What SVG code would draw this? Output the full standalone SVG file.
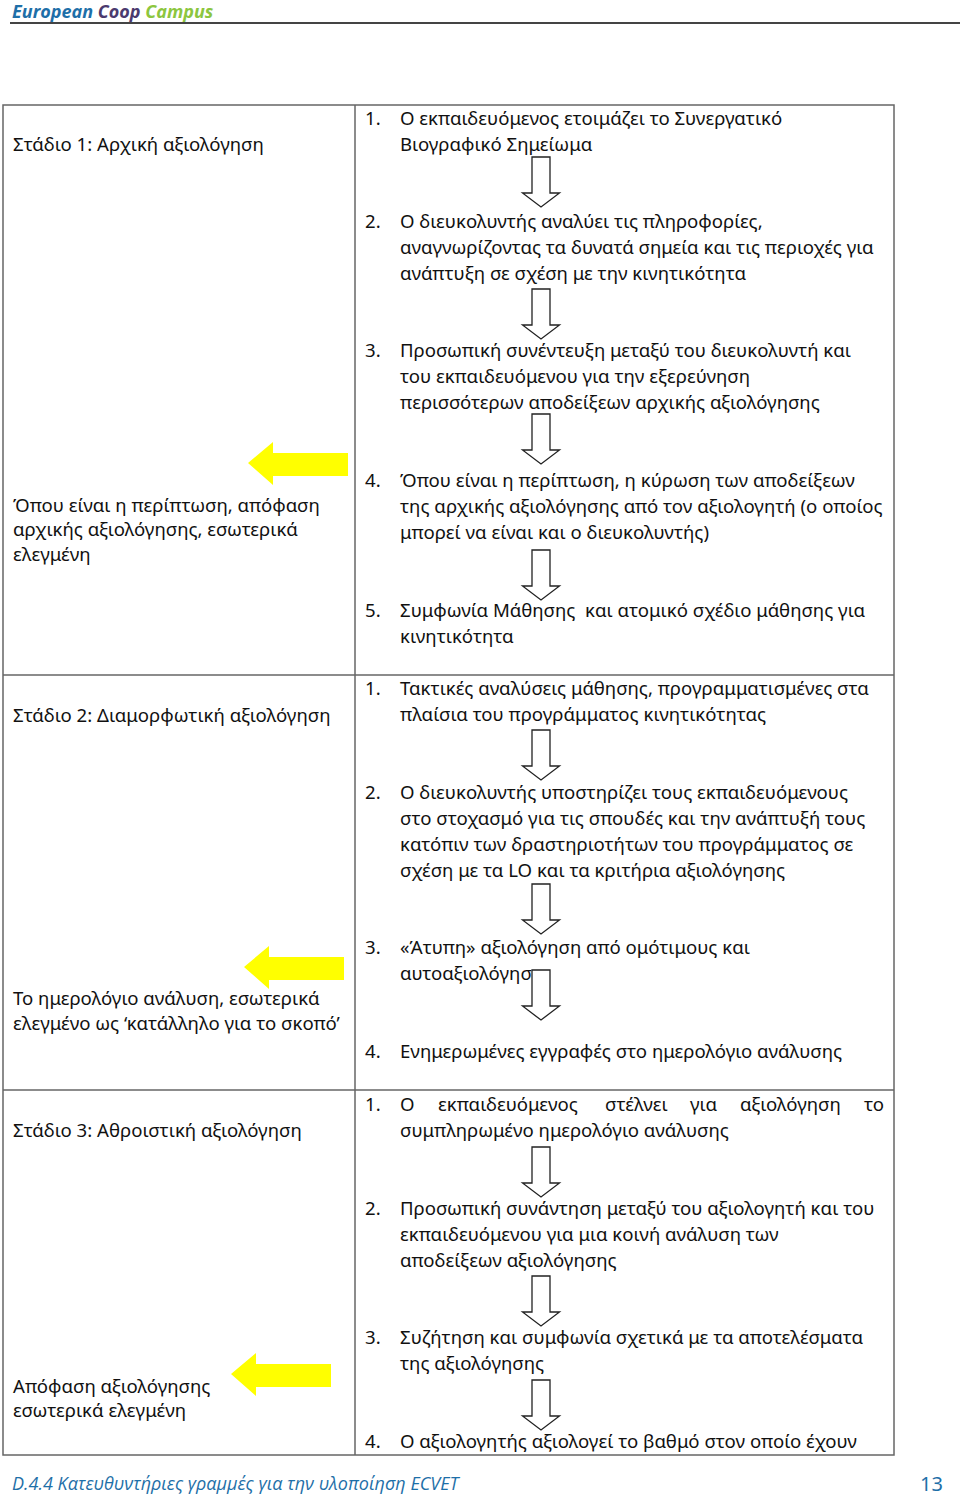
<svg xmlns="http://www.w3.org/2000/svg" width="960" height="1498" viewBox="0 0 960 1498">
<style>
.t{font-family:"Noto Sans","DejaVu Sans",sans-serif;font-size:18.6px;fill:#111}
.b{fill:none;stroke:#666;stroke-width:1.5}
.da{fill:#fff;stroke:#222;stroke-width:1.3}
.ya{fill:#ffff00;stroke:none}
</style>
<defs>
<path id="down" d="M-9,0 H9 V36 H18.5 L0,50 L-18.5,36 H-9 Z"/>
<path id="left" d="M0,0 L25,-21 V-10 H100 V13 H25 V22 Z"/>
</defs>
<rect width="960" height="1498" fill="#fff"/>
<g id="header">
<text x="12" y="18" font-family="'Open Sans','Noto Sans',sans-serif" font-size="18" font-weight="bold" font-style="italic"><tspan fill="#1e6fa8">European</tspan><tspan fill="#4b3a6e"> Coop</tspan><tspan fill="#8cc63f"> Campus</tspan></text>
<line x1="10" y1="23" x2="960" y2="23" stroke="#444" stroke-width="2"/>
</g>
<g id="table">
<rect class="b" x="3" y="105" width="891" height="1350"/>
<line class="b" x1="355" y1="105" x2="355" y2="1455"/>
<line class="b" x1="3" y1="675" x2="894" y2="675"/>
<line class="b" x1="3" y1="1090" x2="894" y2="1090"/>
</g>
<g id="stage1-left" class="t">
<text x="13" y="151">Στάδιο 1: Αρχική αξιολόγηση</text>
<text x="13" y="512">Όπου είναι η περίπτωση, απόφαση</text>
<text x="13" y="536">αρχικής αξιολόγησης, εσωτερικά</text>
<text x="13" y="561">ελεγμένη</text>
</g>
<g id="stage2-left" class="t">
<text x="13" y="722">Στάδιο 2: Διαμορφωτική αξιολόγηση</text>
<text x="13" y="1005">Το ημερολόγιο ανάλυση, εσωτερικά</text>
<text x="13" y="1030">ελεγμένο ως ‘κατάλληλο για το σκοπό’</text>
</g>
<g id="stage3-left" class="t">
<text x="13" y="1137">Στάδιο 3: Αθροιστική αξιολόγηση</text>
<text x="13" y="1393">Απόφαση αξιολόγησης</text>
<text x="13" y="1417">εσωτερικά ελεγμένη</text>
</g>
<g id="stage1-steps" class="t">
<text x="365" y="125">1.</text><text x="400" y="125">Ο εκπαιδευόμενος ετοιμάζει το Συνεργατικό</text>
<text x="400" y="151">Βιογραφικό Σημείωμα</text>
<text x="365" y="228">2.</text><text x="400" y="228">Ο διευκολυντής αναλύει τις πληροφορίες,</text>
<text x="400" y="254">αναγνωρίζοντας τα δυνατά σημεία και τις περιοχές για</text>
<text x="400" y="280">ανάπτυξη σε σχέση με την κινητικότητα</text>
<text x="365" y="357">3.</text><text x="400" y="357">Προσωπική συνέντευξη μεταξύ του διευκολυντή και</text>
<text x="400" y="383">του εκπαιδευόμενου για την εξερεύνηση</text>
<text x="400" y="409">περισσότερων αποδείξεων αρχικής αξιολόγησης</text>
<text x="365" y="487">4.</text><text x="400" y="487">Όπου είναι η περίπτωση, η κύρωση των αποδείξεων</text>
<text x="400" y="513">της αρχικής αξιολόγησης από τον αξιολογητή (ο οποίος</text>
<text x="400" y="539">μπορεί να είναι και ο διευκολυντής)</text>
<text x="365" y="617">5.</text><text x="400" y="617" xml:space="preserve">Συμφωνία Μάθησης  και ατομικό σχέδιο μάθησης για</text>
<text x="400" y="643">κινητικότητα</text>
</g>
<g id="stage2-steps" class="t">
<text x="365" y="695">1.</text><text x="400" y="695">Τακτικές αναλύσεις μάθησης, προγραμματισμένες στα</text>
<text x="400" y="721">πλαίσια του προγράμματος κινητικότητας</text>
<text x="365" y="799">2.</text><text x="400" y="799">Ο διευκολυντής υποστηρίζει τους εκπαιδευόμενους</text>
<text x="400" y="825">στο στοχασμό για τις σπουδές και την ανάπτυξή τους</text>
<text x="400" y="851">κατόπιν των δραστηριοτήτων του προγράμματος σε</text>
<text x="400" y="877">σχέση με τα LO και τα κριτήρια αξιολόγησης</text>
<text x="365" y="954">3.</text><text x="400" y="954">«Άτυπη» αξιολόγηση από ομότιμους και</text>
<text x="400" y="980">αυτοαξιολόγηση</text>
<text x="365" y="1058">4.</text><text x="400" y="1058">Ενημερωμένες εγγραφές στο ημερολόγιο ανάλυσης</text>
</g>
<g id="stage3-steps" class="t">
<text x="365" y="1111">1.</text>
<text x="400" y="1111">Ο</text><text x="438" y="1111">εκπαιδευόμενος</text><text x="605" y="1111">στέλνει</text><text x="690" y="1111">για</text><text x="740" y="1111">αξιολόγηση</text><text x="864" y="1111">το</text>
<text x="400" y="1137">συμπληρωμένο ημερολόγιο ανάλυσης</text>
<text x="365" y="1215">2.</text><text x="400" y="1215">Προσωπική συνάντηση μεταξύ του αξιολογητή και του</text>
<text x="400" y="1241">εκπαιδευόμενου για μια κοινή ανάλυση των</text>
<text x="400" y="1267">αποδείξεων αξιολόγησης</text>
<text x="365" y="1344">3.</text><text x="400" y="1344">Συζήτηση και συμφωνία σχετικά με τα αποτελέσματα</text>
<text x="400" y="1370">της αξιολόγησης</text>
<text x="365" y="1448">4.</text><text x="400" y="1448">Ο αξιολογητής αξιολογεί το βαθμό στον οποίο έχουν</text>
</g>
<g id="connectors">
<use href="#down" class="da" x="541" y="157"/>
<use href="#down" class="da" x="541" y="289"/>
<use href="#down" class="da" x="541" y="414"/>
<use href="#down" class="da" x="541" y="550"/>
<use href="#down" class="da" x="541" y="730"/>
<use href="#down" class="da" x="541" y="884"/>
<use href="#down" class="da" x="541" y="970"/>
<use href="#down" class="da" x="541" y="1147"/>
<use href="#down" class="da" x="541" y="1276"/>
<use href="#down" class="da" x="541" y="1380"/>
<use href="#left" class="ya" x="248" y="463"/>
<use href="#left" class="ya" x="244" y="967"/>
<use href="#left" class="ya" x="231" y="1374"/>
</g>
<g id="footer">
<text x="12" y="1490" font-family="'Open Sans','Noto Sans',sans-serif" font-size="18" font-style="italic" fill="#1e6fa8">D.4.4 Κατευθυντήριες γραμμές για την υλοποίηση ECVET</text>
<text x="920" y="1491" font-family="'Noto Sans',sans-serif" font-size="20" fill="#1e6fa8">13</text>
</g>
</svg>
